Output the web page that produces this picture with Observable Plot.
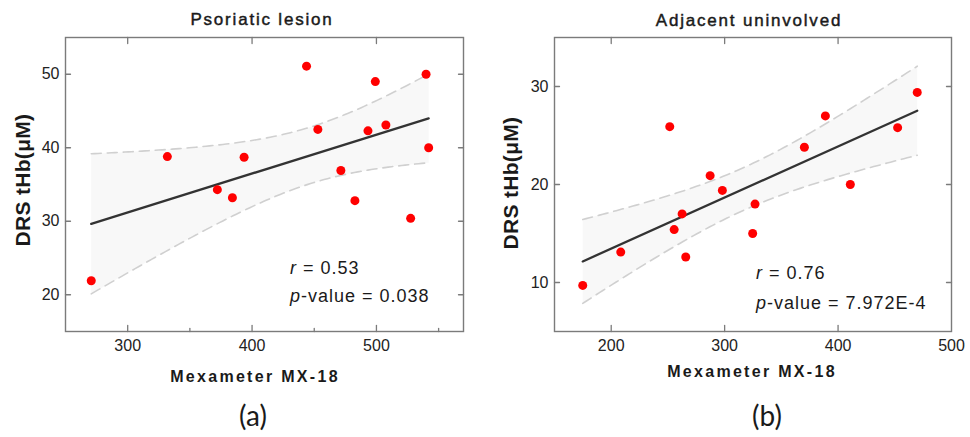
<!DOCTYPE html>
<html><head><meta charset="utf-8">
<script src="https://cdn.jsdelivr.net/npm/d3@7"></script>
<script src="https://cdn.jsdelivr.net/npm/@observablehq/plot@0.6"></script>
<style>
body{margin:0;background:#fff;}
#wrap{position:relative;width:970px;height:437px;font-family:"Liberation Sans",Arial,sans-serif;overflow:hidden;}
#wrap > svg{position:absolute;top:0;overflow:visible;}
</style></head><body><div id="wrap"></div>
<script>
// ---------- data ----------
// (a) Psoriatic lesion
const lesionMexameter = [270.7, 331.9, 372.1, 384.2, 393.6, 443.8, 452.9, 471.4, 482.7, 493.2, 499.1, 507.6, 527.5, 539.9, 542.0];
const lesionTHb       = [21.9, 38.8, 34.3, 33.2, 38.7, 51.1, 42.5, 36.9, 32.8, 42.3, 49.0, 43.1, 30.4, 50.0, 40.0];
// (b) Adjacent uninvolved
const uninvMexameter = [174.9, 208.4, 251.6, 255.5, 262.5, 265.7, 287.2, 298.0, 324.7, 326.8, 370.3, 388.8, 410.8, 452.5, 469.8];
const uninvTHb       = [9.7, 13.1, 25.9, 15.4, 17.0, 12.6, 20.9, 19.4, 15.0, 18.0, 23.8, 27.0, 20.0, 25.8, 29.4];

const titles = ["Psoriatic lesion", "Adjacent uninvolved"];
const panelLabels = ["(a)", "(b)"];
const rValues = ["0.53", "0.76"];
const pValues = ["0.038", "7.972E-4"];
const xLabel = "Mexameter MX-18";
const yLabel = "DRS tHb(\u03bcM)";

const lesionXTicks = [300, 400, 500], lesionXMinor = [350, 450, 550], lesionYTicks = [20, 30, 40, 50];
const uninvXTicks = [200, 300, 400, 500], uninvXMinor = [], uninvYTicks = [10, 20, 30];

// 97.5% quantile of Student t for the residual degrees of freedom
const tCrit = {13: 2.1604};

function ciBand(data) {
  const n = data.length;
  const mx = d3.mean(data, d => d.x), my = d3.mean(data, d => d.y);
  const sxx = d3.sum(data, d => (d.x - mx) ** 2);
  const sxy = d3.sum(data, d => (d.x - mx) * (d.y - my));
  const b = sxy / sxx, a = my - b * mx;
  const sse = d3.sum(data, d => (d.y - a - b * d.x) ** 2);
  const s = Math.sqrt(sse / (n - 2));
  const t = tCrit[n - 2];
  const [x0, x1] = d3.extent(data, d => d.x);
  return d3.range(0, 101).map(i => {
    const x = x0 + (x1 - x0) * i / 100;
    const yh = a + b * x;
    const e = t * s * Math.sqrt(1 / n + (x - mx) ** 2 / sxx);
    return {x, lo: yh - e, hi: yh + e};
  });
}

const axisStroke = "#7b7b7b";
const tickShape = {draw(ctx, l) { ctx.moveTo(0, 0); ctx.lineTo(0, -l); }};

function panel({xs, ys, xDomain, yDomain, xTicks, xMinor, yTicks, margins}) {
  const data = xs.map((x, i) => ({x, y: ys[i]}));
  const band = ciBand(data);
  const topTicks = xTicks.filter(v => v < xDomain[1]);
  return Plot.plot({
    width: 485, height: 437, ...margins,
    x: {domain: xDomain},
    y: {domain: yDomain},
    style: {fontFamily: '"Liberation Sans",Arial,sans-serif', fontSize: "16px", color: "#222", background: "transparent", overflow: "visible"},
    marks: [
      Plot.linearRegressionY(data, {x: "x", y: "y", ci: 0.95, fill: "#f8f8f8", fillOpacity: 1, stroke: "#333", strokeWidth: 2.3}),
      Plot.line(band, {x: "x", y: "lo", stroke: "#d0d0d0", strokeWidth: 1.6, strokeDasharray: "10,6"}),
      Plot.line(band, {x: "x", y: "hi", stroke: "#d0d0d0", strokeWidth: 1.6, strokeDasharray: "10,6"}),
      Plot.dot(data, {x: "x", y: "y", r: 4.5, fill: "#ff0000"}),
      Plot.frame({stroke: axisStroke, strokeWidth: 1.4}),
      Plot.axisX({ticks: xTicks, tickSize: 0, tickPadding: 8, label: null, fontSize: 16}),
      Plot.axisY({ticks: yTicks, tickSize: 0, tickPadding: 6, label: null, fontSize: 16}),
      Plot.vector(topTicks, {x: d => d, y: () => yDomain[0], length: 6, rotate: 0, anchor: "start", shape: tickShape, stroke: axisStroke, strokeWidth: 1.3}),
      Plot.vector(xMinor, {x: d => d, y: () => yDomain[0], length: 3, rotate: 0, anchor: "start", shape: tickShape, stroke: axisStroke, strokeWidth: 1.3}),
      Plot.vector(topTicks, {x: d => d, y: () => yDomain[1], length: 6, rotate: 180, anchor: "start", shape: tickShape, stroke: axisStroke, strokeWidth: 1.3}),
      Plot.vector(yTicks, {x: () => xDomain[0], y: d => d, length: 5, rotate: 90, anchor: "start", shape: tickShape, stroke: axisStroke, strokeWidth: 1.3}),
      Plot.vector(yTicks, {x: () => xDomain[1], y: d => d, length: 5, rotate: -90, anchor: "start", shape: tickShape, stroke: axisStroke, strokeWidth: 1.3})
    ]
  });
}

const wrap = document.getElementById("wrap");
const pa = panel({xs: lesionMexameter, ys: lesionTHb, xDomain: [250, 570], yDomain: [15, 55],
  xTicks: lesionXTicks, xMinor: lesionXMinor, yTicks: lesionYTicks,
  margins: {marginLeft: 65, marginRight: 22, marginTop: 37, marginBottom: 106}});
pa.style.left = "0px";
wrap.appendChild(pa);
const pb = panel({xs: uninvMexameter, ys: uninvTHb, xDomain: [150, 500], yDomain: [5, 35],
  xTicks: uninvXTicks, xMinor: uninvXMinor, yTicks: uninvYTicks,
  margins: {marginLeft: 69, marginRight: 19, marginTop: 37, marginBottom: 106}});
pb.style.left = "485px";
wrap.appendChild(pb);

// ---------- text overlay ----------
const FONT = '"Liberation Sans", Arial, sans-serif';
const ov = d3.select(wrap).append("svg").attr("width", 970).attr("height", 437).style("left", "0px")
  .attr("font-family", FONT).attr("fill", "#1a1a1a");
const layout = [
  {titleX: 262, titleY: 25, xlX: 255, xlY: 381.5, ylX: 30, ylY: 180, statX: 290, rY: 274, pY: 301.5, capX: 253},
  {titleX: 749, titleY: 25.5, xlX: 752, xlY: 376.5, ylX: 518, ylY: 183, statX: 756, rY: 278.5, pY: 309, capX: 767}
];
layout.forEach((L, i) => {
  ov.append("text").attr("x", L.titleX).attr("y", L.titleY).attr("text-anchor", "middle")
    .attr("font-family", FONT).attr("font-size", 17).attr("letter-spacing", 1.8)
    .attr("stroke", "#1a1a1a").attr("stroke-width", 0.45).text(titles[i]);
  ov.append("text").attr("x", L.xlX).attr("y", L.xlY).attr("text-anchor", "middle")
    .attr("font-family", FONT).attr("font-size", 16).attr("font-weight", "bold").attr("letter-spacing", 2.3).text(xLabel);
  ov.append("text").attr("transform", `translate(${L.ylX},${L.ylY}) rotate(-90)`).attr("text-anchor", "middle")
    .attr("font-family", FONT).attr("font-size", 21).attr("font-weight", "bold").attr("letter-spacing", 0.3).text(yLabel);
  const r = ov.append("text").attr("x", L.statX).attr("y", L.rY).attr("font-family", FONT).attr("font-size", 18).attr("letter-spacing", 1);
  r.append("tspan").attr("font-style", "italic").text("r");
  r.append("tspan").text(" = " + rValues[i]);
  const p = ov.append("text").attr("x", L.statX).attr("y", L.pY).attr("font-family", FONT).attr("font-size", 18).attr("letter-spacing", 1);
  p.append("tspan").attr("font-style", "italic").text("p");
  p.append("tspan").text("-value = " + pValues[i]);
  ov.append("text").attr("x", L.capX).attr("y", 426).attr("text-anchor", "middle")
    .attr("font-size", 28).attr("font-family", "Lato, 'Open Sans', sans-serif").text(panelLabels[i]);
});
</script></body></html>
